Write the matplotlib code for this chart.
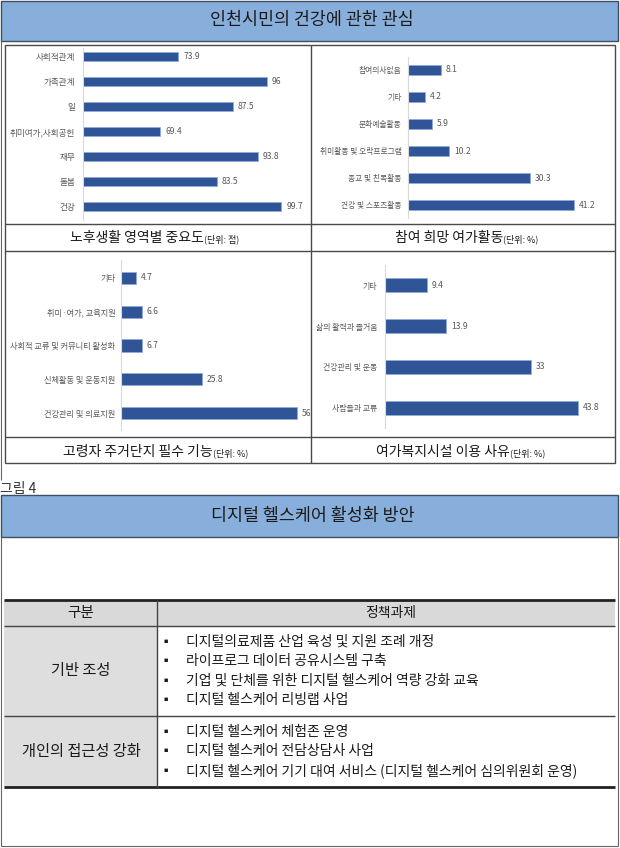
import matplotlib
matplotlib.use('Agg')
import matplotlib.pyplot as plt
from matplotlib.patches import Rectangle
import numpy as np

plt.rcParams['font.family'] = ['Noto Sans CJK KR', 'DejaVu Sans']

W, H = 620, 848

# Chart data
age_labels = ['사회적관계', '가족관계', '일', '취미여가,사회공헌', '재무', '돌봄', '건강']
age_values = [73.9, 96, 87.5, 69.4, 93.8, 83.5, 99.7]

leisure_labels = ['참여의사없음', '기타', '문화예술활동', '취미활동 및 오락프로그램',
                  '종교 및 친목활동', '건강 및 스포츠활동']
leisure_values = [8.1, 4.2, 5.9, 10.2, 30.3, 41.2]

housing_labels = ['기타', '취미·여가, 교육지원', '사회적 교류 및 커뮤니티 활성화',
                  '신체활동 및 운동지원', '건강관리 및 의료지원']
housing_values = [4.7, 6.6, 6.7, 25.8, 56]

welfare_labels = ['기타', '삶의 활력과 즐거움', '건강관리 및 운동', '사람들과 교류']
welfare_values = [9.4, 13.9, 33, 43.8]

panel_titles = [('노후생활 영역별 중요도', '(단위: 점)'),
                ('참여 희망 여가활동', '(단위: %)'),
                ('고령자 주거단지 필수 기능', '(단위: %)'),
                ('여가복지시설 이용 사유', '(단위: %)')]

top_title = '인천시민의 건강에 관한 관심'
bottom_title = '디지털 헬스케어 활성화 방안'
fig_caption = '그림 4'

# Table data
table_header = ['구분', '정책과제']
table_groups = ['기반 조성', '개인의 접근성 강화']
table_items = [
    ['디지털의료제품 산업 육성 및 지원 조례 개정',
     '라이프로그 데이터 공유시스템 구축',
     '기업 및 단체를 위한 디지털 헬스케어 역량 강화 교육',
     '디지털 헬스케어 리빙랩 사업'],
    ['디지털 헬스케어 체험존 운영',
     '디지털 헬스케어 전담상담사 사업',
     '디지털 헬스케어 기기 대여 서비스 (디지털 헬스케어 심의위원회 운영)'],
]

BAR = '#2F5597'
GRAY_TXT = '#595959'
BAND = '#88AEDB'
LINE = '#4A4A4A'

fig = plt.figure(figsize=(6.2, 8.48), dpi=100)
bg = fig.add_axes([0, 0, 1, 1])
bg.set_xlim(0, W)
bg.set_ylim(H, 0)
bg.axis('off')


def px_axes(x0, y0, x1, y1):
    return fig.add_axes([x0 / W, 1 - y1 / H, (x1 - x0) / W, (y1 - y0) / H])


def bar_panel(box, labels, values, xlim, ylim, bar_h, lab_size, pad):
    ax = px_axes(*box)
    y = np.arange(len(labels))
    ax.barh(y, values, height=bar_h, color=BAR, edgecolor='#8FAADC', linewidth=0.6)
    ax.set_xlim(*xlim)
    ax.set_ylim(*ylim)
    ax.set_yticks(y, labels, fontsize=lab_size, color=GRAY_TXT)
    ax.tick_params(axis='y', length=0, pad=pad)
    ax.set_xticks([])
    for s in ['top', 'right', 'bottom']:
        ax.spines[s].set_visible(False)
    ax.spines['left'].set_color('#D9D9D9')
    ax.spines['left'].set_linewidth(0.8)
    for yi, v in zip(y, values):
        ax.annotate(f'{v:g}', (v, yi), xytext=(3.5, 0), textcoords='offset points',
                    va='center', ha='left', fontsize=6.2, color=GRAY_TXT)
    ax.patch.set_alpha(0)
    return ax


def hline(y, x0, x1, lw=1.0, color=LINE):
    bg.plot([x0, x1], [y, y], color=color, lw=lw, solid_capstyle='butt')


def vline(x, y0, y1, lw=1.0, color=LINE):
    bg.plot([x, x], [y0, y1], color=color, lw=lw, solid_capstyle='butt')


# ---- top section ----
bg.add_patch(Rectangle((1, 0.5), 617, 40, facecolor=BAND, edgecolor='#3D4F63', lw=1))
bg.text(312, 20, top_title, ha='center', va='center', fontsize=12.5, color='#1A1A1A')
vline(1, 40, 480, lw=0.8, color='#666666')

# panel grid
bg.add_patch(Rectangle((5, 45), 610, 418, facecolor='none', edgecolor=LINE, lw=1))
for yy in [224, 251, 437]:
    hline(yy, 5, 615)
vline(310.5, 45, 463)

bar_panel((83, 48, 303, 220), age_labels, age_values, (50, 105.1), (6.52, -0.32), 0.36, 6.2, 5.5)
bar_panel((408, 57, 612, 218), leisure_labels, leisure_values, (0, 50.5), (5.48, -0.48), 0.37, 5.6, 4.5)
bar_panel((121, 260, 303, 430), housing_labels, housing_values, (0, 58), (4.5, -0.53), 0.36, 5.9, 4.0)
bar_panel((385, 265, 612, 428), welfare_labels, welfare_values, (0, 51.4), (3.49, -0.49), 0.34, 5.7, 5.5)

label_pos = [(204, 238), (503, 238), (213, 452), (510, 452)]
for (big, small), (lx, ly) in zip(panel_titles, label_pos):
    t = bg.text(lx, ly, big, ha='right', va='center', fontsize=10, color='#1A1A1A')
    bg.annotate(small, xy=(1, 0), xycoords=t, xytext=(0.3, 0.6), textcoords='offset points',
                ha='left', va='bottom', fontsize=6.5, color='#1A1A1A')

bg.text(0, 489, fig_caption, ha='left', va='center', fontsize=10, color='#333333',
        fontweight='light')

# ---- bottom section ----
bg.add_patch(Rectangle((1, 495), 617, 42, facecolor=BAND, edgecolor='#3D4F63', lw=1))
bg.text(313, 516, bottom_title, ha='center', va='center', fontsize=12.5, color='#1A1A1A')
vline(1, 537, 846, lw=0.8, color='#666666')
vline(618, 537, 846, lw=0.8, color='#666666')
hline(846, 1, 618, lw=0.8, color='#666666')

# table
tx0, tx1, col_x = 4, 615, 157
t_top, t_head, t_mid, t_bot = 600, 626, 716, 787
bg.add_patch(Rectangle((tx0, t_top), tx1 - tx0, t_head - t_top, facecolor='#D9D9D9', edgecolor='none'))
bg.add_patch(Rectangle((tx0, t_head), col_x - tx0, t_bot - t_head, facecolor='#DEDEDE', edgecolor='none'))
hline(t_top, tx0, tx1, lw=2, color='#222222')
hline(t_head, tx0, tx1, lw=1, color='#444444')
hline(t_mid, tx0, tx1, lw=1, color='#444444')
hline(t_bot, tx0, tx1, lw=2, color='#222222')
vline(col_x, t_top, t_bot, lw=1, color='#444444')

bg.text(81, 613, table_header[0], ha='center', va='center', fontsize=10.5, color='#1A1A1A')
bg.text(391, 613, table_header[1], ha='center', va='center', fontsize=10, color='#1A1A1A')

row_bounds = [(t_head, t_mid), (t_mid, t_bot)]
step = 19.5
for grp, items, (r0, r1) in zip(table_groups, table_items, row_bounds):
    mid = (r0 + r1) / 2
    bg.text(81, mid, grp, ha='center', va='center', fontsize=11, color='#1A1A1A')
    start = mid - step * (len(items) - 1) / 2
    for i, item in enumerate(items):
        yy = start + i * step
        bg.text(166, yy + 0.5, '▪', ha='center', va='center', fontsize=9, color='#1A1A1A')
        bg.text(186, yy, item, ha='left', va='center', fontsize=10, color='#1A1A1A')

fig.savefig('out.png', dpi=100)
